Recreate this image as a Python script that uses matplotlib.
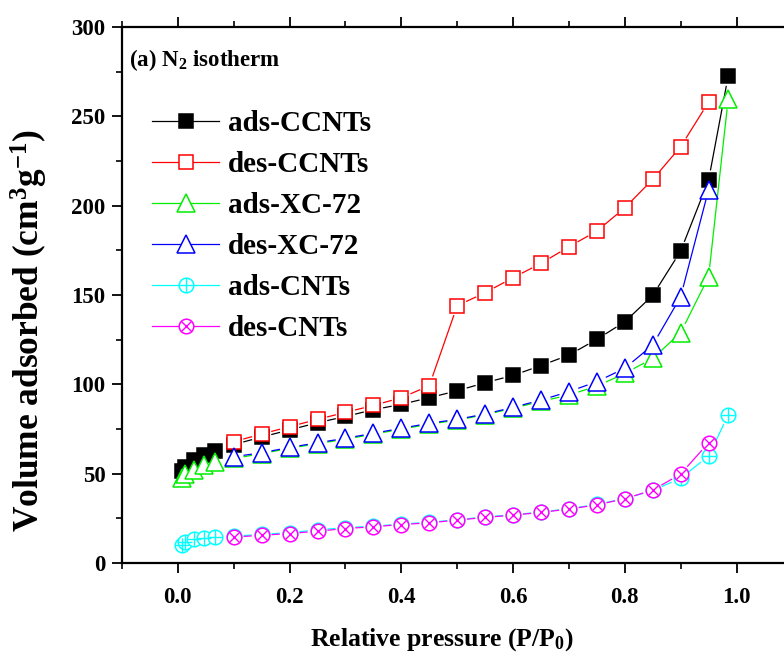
import numpy as np
import matplotlib
matplotlib.use('Agg')
import matplotlib.pyplot as plt
from matplotlib.ticker import MultipleLocator
from matplotlib.legend_handler import HandlerTuple

"""
N2 adsorption/desorption isotherms for CCNTs, XC-72 and CNTs
"""

plt.rcParams['font.family'] = ['Liberation Serif', 'DejaVu Serif']
plt.rcParams['font.weight'] = 'bold'
plt.rcParams['axes.labelweight'] = 'bold'
plt.rcParams['mathtext.fontset'] = 'custom'
plt.rcParams['mathtext.rm'] = 'Liberation Serif:bold'
plt.rcParams['mathtext.bf'] = 'Liberation Serif:bold'
plt.rcParams['mathtext.it'] = 'Liberation Serif:bold:italic'
plt.rcParams['mathtext.default'] = 'rm'

# relative pressure P/P0
p_ads = [0.008, 0.013, 0.028, 0.046, 0.066, 0.10, 0.15, 0.20, 0.25, 0.30, 0.35,
         0.40, 0.45, 0.50, 0.55, 0.60, 0.65, 0.70, 0.75, 0.80, 0.85, 0.90, 0.95, 0.985]
p_des = [0.10, 0.15, 0.20, 0.25, 0.30, 0.35, 0.40, 0.45, 0.50, 0.55, 0.60,
         0.65, 0.70, 0.75, 0.80, 0.85, 0.90, 0.95]

# volume adsorbed, cm3/g
ads_ccnts = [51.5, 54.0, 57.5, 60.3, 62.8, 66.3, 70.5, 74.5, 78.5, 82.0, 85.8,
             88.8, 92.5, 96.4, 100.9, 105.0, 110.5, 116.4, 125.2, 135.0, 149.8, 174.6, 214.3, 272.5]
des_ccnts = [67.9, 72.2, 76.3, 80.4, 84.3, 88.2, 92.5, 99.2, 144.0, 151.3, 159.7,
             167.7, 177.0, 185.8, 198.8, 214.7, 233.0, 258.0]
ads_xc72 = [47.5, 50.0, 52.0, 54.8, 56.8, 58.5, 61.2, 64.2, 66.8, 69.3, 72.1,
            74.9, 77.7, 80.0, 83.0, 86.6, 90.5, 94.0, 99.0, 106.1, 114.5, 128.9, 160.2, 259.5]
des_xc72 = [59.5, 61.7, 64.7, 67.3, 69.8, 72.6, 75.4, 78.2, 80.4, 83.4, 87.1,
            91.2, 95.9, 101.5, 109.0, 122.0, 149.0, 209.0]
ads_cnts = [10.2, 11.8, 13.2, 14.0, 14.5, 15.0, 16.0, 17.0, 18.5, 19.8, 20.6,
            21.8, 22.8, 24.2, 25.8, 27.0, 28.5, 30.4, 32.8, 36.0, 40.6, 47.4, 59.9, 82.8]
des_cnts = [14.5, 15.5, 16.5, 17.8, 19.3, 20.3, 21.5, 22.5, 24.0, 25.5, 26.8,
            28.3, 30.2, 32.5, 36.0, 40.8, 49.8, 67.3]


def GappedLine(ax, x, y, color, gap=10.5, z=1):
    # connect points with segments that stop short of each symbol
    pts = ax.transData.transform(np.column_stack([x, y]))
    inv = ax.transData.inverted()
    for p0, p1 in zip(pts[:-1], pts[1:]):
        d = p1 - p0
        L = np.hypot(*d)
        if L <= 2 * gap + 1:
            continue
        u = d / L
        a = inv.transform(p0 + u * gap)
        b = inv.transform(p1 - u * gap)
        ax.plot([a[0], b[0]], [a[1], b[1]], color=color, lw=0.9, zorder=z)


fig = plt.figure(figsize=(7.84, 6.56), dpi=100, facecolor='w')
ax = fig.add_axes([122/784, 93/656, 670.4/784, 536/656])
ax.set_xlim(-0.1, 1.1)
ax.set_ylim(0, 300)

green = '#00ee00'
series = [
    (p_ads, ads_ccnts, 'k', dict(marker='s', ms=9.7, mfc='k', mec='k')),
    (p_des, des_ccnts, 'r', dict(marker='s', ms=9.7, mfc='w', mec='r')),
    (p_ads, ads_xc72, green, dict(marker='^', ms=12.5, mfc='w', mec=green)),
    (p_des, des_xc72, 'b', dict(marker='^', ms=12.5, mfc='w', mec='b')),
    (p_ads, ads_cnts, 'cyan', dict(marker='o', ms=10.5, mfc='w', mec='cyan')),
    (p_des, des_cnts, 'magenta', dict(marker='o', ms=10.5, mfc='w', mec='magenta')),
]
labels = ['ads-CCNTs', 'des-CCNTs', 'ads-XC-72', 'des-XC-72', 'ads-CNTs', 'des-CNTs']
inner = [None, None, None, None, ('+', 10.5), ('x', 7.4)]

handles = []
for i, (x, y, c, m) in enumerate(series):
    z = 2 + 2 * i
    GappedLine(ax, x, y, c, z=z)
    ax.plot(x, y, ls='', mew=1.1, zorder=z + 1, **m)
    h = [plt.Line2D([], [], color=c, lw=0.9, mew=1.1, **m)]
    if inner[i] is not None:
        mk, s = inner[i]
        ax.plot(x, y, ls='', marker=mk, ms=s, mec=c, mew=1.0, zorder=z + 1.5)
        h.append(plt.Line2D([], [], ls='', marker=mk, ms=s, mec=c, mew=1.0))
    handles.append(tuple(h))

leg = ax.legend(handles, labels, loc='upper left', bbox_to_anchor=(0.045, 0.845),
                frameon=False, fontsize=21, handlelength=2.3, handletextpad=0.3,
                labelspacing=0.48, borderpad=0, borderaxespad=0,
                handler_map={tuple: HandlerTuple(ndivide=1)})

ax.text(129/784, 1 - 66/656, r'(a) N$_2$ isotherm', transform=fig.transFigure,
        fontsize=16.5, va='baseline', ha='left')

ax.xaxis.set_major_locator(MultipleLocator(0.2))
ax.xaxis.set_minor_locator(MultipleLocator(0.1))
ax.yaxis.set_major_locator(MultipleLocator(50))
ax.yaxis.set_minor_locator(MultipleLocator(25))
ax.set_xticks(np.arange(0, 1.01, 0.2))
ax.set_xticklabels(['%.1f' % v for v in np.arange(0, 1.01, 0.2)])
ax.tick_params(which='major', direction='out', length=7, width=1.3, labelsize=16.5, pad=5)
ax.tick_params(which='minor', direction='out', length=4, width=1.2)
ax.tick_params(axis='x', which='major', pad=10)
ax.tick_params(axis='x', which='both', top=True, labeltop=False)
ax.tick_params(axis='x', which='both', top=True, length=2)
ax.tick_params(axis='x', which='major', bottom=True, length=7)
ax.tick_params(axis='x', which='minor', bottom=True, length=4)
ax.spines['right'].set_visible(False)
for sp in ax.spines.values():
    sp.set_linewidth(1.6)

ax.set_xlabel(r'Relative pressure (P/P$_0$)', fontsize=18.5, va='baseline')
ax.xaxis.set_label_coords((442 - 122) / 670.4, (563 - 646) / 536)
ax.set_ylabel(r'Volume adsorbed (cm$^3$g$^{-1}$)', fontsize=25.5)
ax.yaxis.set_label_coords((50 - 122) / 670.4, (563 - 330) / 536)

plt.savefig('out.png', dpi=100)
